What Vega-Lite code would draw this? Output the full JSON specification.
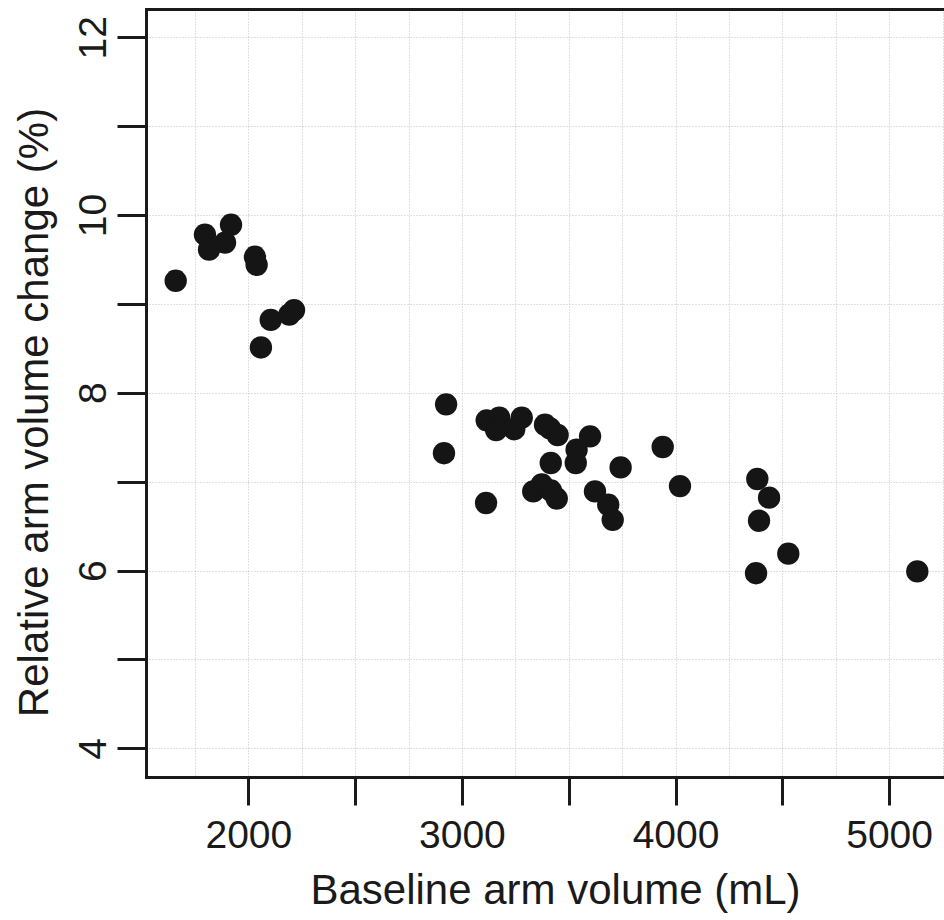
{
  "$schema": "https://vega.github.io/schema/vega-lite/v6.json",
  "autosize": {"type": "none"},
  "padding": {"left": 146, "top": 9, "right": 0, "bottom": 143},
  "width": 798,
  "height": 768,
  "config": {
    "view": {"stroke": null},
    "font": "Liberation Sans"
  },
  "data": {
    "values": [
      {"volume": 1660, "change": 9.26},
      {"volume": 1797, "change": 9.78},
      {"volume": 1816, "change": 9.61},
      {"volume": 1891, "change": 9.69},
      {"volume": 1919, "change": 9.89},
      {"volume": 2031, "change": 9.53},
      {"volume": 2039, "change": 9.44},
      {"volume": 2059, "change": 8.51},
      {"volume": 2105, "change": 8.82},
      {"volume": 2192, "change": 8.88},
      {"volume": 2214, "change": 8.93},
      {"volume": 2926, "change": 7.87},
      {"volume": 2916, "change": 7.32},
      {"volume": 3113, "change": 6.76},
      {"volume": 3116, "change": 7.69},
      {"volume": 3175, "change": 7.72},
      {"volume": 3160, "change": 7.58},
      {"volume": 3245, "change": 7.59},
      {"volume": 3280, "change": 7.72},
      {"volume": 3389, "change": 7.64},
      {"volume": 3412, "change": 7.60},
      {"volume": 3448, "change": 7.525},
      {"volume": 3416, "change": 7.21},
      {"volume": 3537, "change": 7.36},
      {"volume": 3533, "change": 7.21},
      {"volume": 3600, "change": 7.51},
      {"volume": 3743, "change": 7.16},
      {"volume": 3940, "change": 7.39},
      {"volume": 4021, "change": 6.95},
      {"volume": 3334, "change": 6.89},
      {"volume": 3374, "change": 6.97},
      {"volume": 3417, "change": 6.90},
      {"volume": 3444, "change": 6.81},
      {"volume": 3623, "change": 6.89},
      {"volume": 3685, "change": 6.74},
      {"volume": 3706, "change": 6.57},
      {"volume": 4383, "change": 7.03},
      {"volume": 4438, "change": 6.82},
      {"volume": 4391, "change": 6.56},
      {"volume": 4528, "change": 6.19},
      {"volume": 4377, "change": 5.97},
      {"volume": 5132, "change": 5.99}
    ]
  },
  "layer": [
    {
      "mark": {"type": "circle", "size": 500, "color": "#151515", "opacity": 1},
      "encoding": {
        "x": {
          "field": "volume",
          "type": "quantitative",
          "scale": {"domain": [1521, 5257], "nice": false, "zero": false},
          "axis": {
            "orient": "bottom",
            "values": [1750, 2000, 2250, 2500, 2750, 3000, 3250, 3500, 3750, 4000, 4250, 4500, 4750, 5000, 5250],
            "format": "d",
            "labelExpr": "datum.value % 1000 === 0 ? datum.label : ''",
            "labelOverlap": false,
            "labelFontSize": 39,
            "labelColor": "#1a1a1a",
            "labelPadding": 11,
            "labelBaseline": "top",
            "domainColor": "#1a1a1a",
            "domainWidth": 3,
            "domainCap": "square",
            "tickColor": "#1a1a1a",
            "tickWidth": 3,
            "tickSize": 28,
            "tickOpacity": {"condition": {"test": "datum.value % 500 === 0", "value": 1}, "value": 0},
            "grid": true,
            "gridColor": "#c0c0c0",
            "gridDash": [1, 2],
            "gridWidth": 1,
            "title": "Baseline arm volume (mL)",
            "titleFontSize": 42,
            "titleFontWeight": "normal",
            "titleColor": "#1a1a1a",
            "titleAlign": "center",
            "titleBaseline": "alphabetic",
            "titleX": 409,
            "titleY": 126
          }
        },
        "y": {
          "field": "change",
          "type": "quantitative",
          "scale": {"domain": [3.677, 12.318], "nice": false, "zero": false},
          "axis": {
            "orient": "left",
            "values": [4, 4.5, 5, 5.5, 6, 6.5, 7, 7.5, 8, 8.5, 9, 9.5, 10, 10.5, 11, 11.5, 12],
            "format": "d",
            "labelExpr": "datum.value % 2 === 0 ? format(datum.value, 'd') : ''",
            "labelOverlap": false,
            "labelAngle": -90,
            "labelAlign": "center",
            "labelBaseline": "alphabetic",
            "labelFontSize": 39,
            "labelColor": "#1a1a1a",
            "labelPadding": 12,
            "domainColor": "#1a1a1a",
            "domainWidth": 3,
            "domainCap": "square",
            "tickColor": "#1a1a1a",
            "tickWidth": 3,
            "tickSize": {"condition": {"test": "datum.value % 1 === 0", "value": 29}, "value": 17},
            "grid": true,
            "gridColor": "#c0c0c0",
            "gridDash": [1, 2],
            "gridWidth": 1,
            "gridOpacity": {"condition": {"test": "datum.value % 1 === 0", "value": 1}, "value": 0},
            "title": "Relative arm volume change (%)",
            "titleFontSize": 42,
            "titleFontWeight": "normal",
            "titleColor": "#1a1a1a",
            "titleAngle": -90,
            "titleAlign": "center",
            "titleBaseline": "alphabetic",
            "titleX": -99,
            "titleY": 403
          }
        }
      }
    },
    {
      "mark": {"type": "circle", "opacity": 0},
      "encoding": {
        "x": {
          "field": "volume",
          "type": "quantitative",
          "axis": {
            "orient": "top",
            "labels": false,
            "ticks": false,
            "grid": false,
            "title": null,
            "domainColor": "#1a1a1a",
            "domainWidth": 3,
            "domainCap": "square"
          }
        },
        "y": {"field": "change", "type": "quantitative"}
      }
    }
  ],
  "resolve": {"axis": {"x": "independent"}}
}
